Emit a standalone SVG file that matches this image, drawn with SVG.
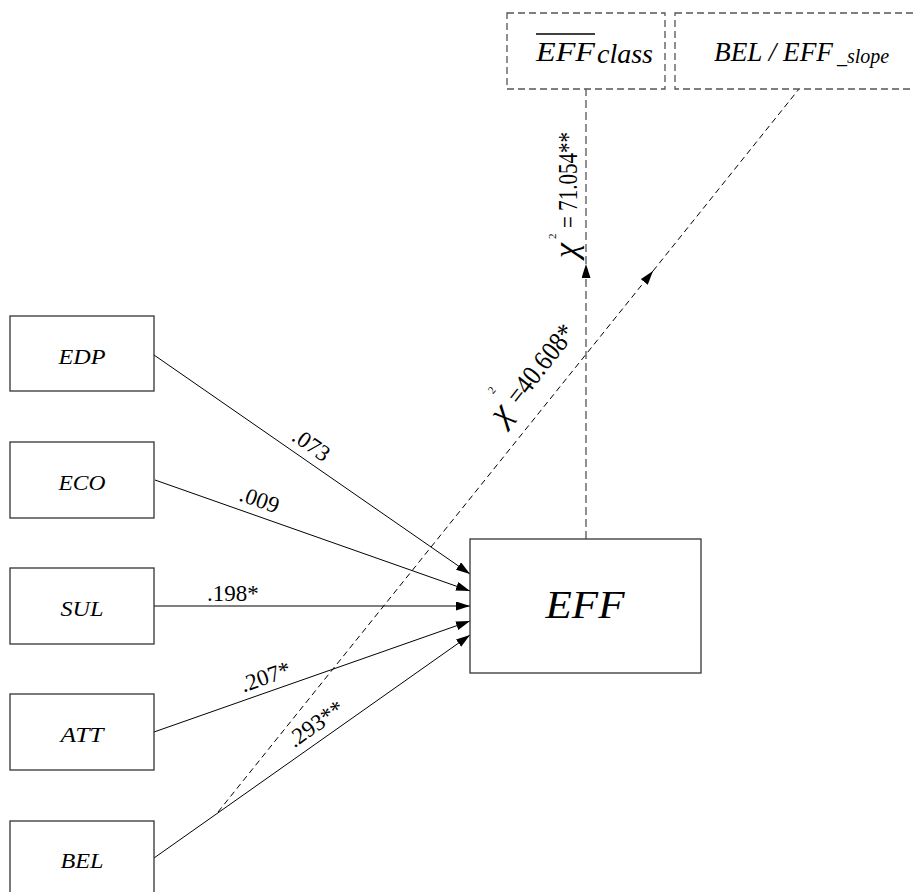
<svg xmlns="http://www.w3.org/2000/svg" width="914" height="892" viewBox="0 0 914 892">
<defs>
<style>
.box{fill:#fff;stroke:#333;stroke-width:1.3}
.dbox{fill:#fff;stroke:#555;stroke-width:1.3;stroke-dasharray:7 4}
.sol{stroke:#000;stroke-width:1;fill:none}
.dgray{stroke:#555;stroke-width:1.3;stroke-dasharray:8 4;fill:none}
.dblk{stroke:#000;stroke-width:1;stroke-dasharray:6 4;fill:none}
</style>
<marker id="ah" markerUnits="userSpaceOnUse" markerWidth="15" markerHeight="10" refX="14" refY="4.5" orient="auto"><path d="M0,0 L14,4.5 L0,9 z" fill="#000"/></marker>
</defs>
<rect width="914" height="892" fill="#fff"/>
<g font-family="Liberation Serif, Times New Roman, serif" fill="#000">
<g id="connectors">
<line class="sol" x1="154" y1="355" x2="470" y2="574" marker-end="url(#ah)"/>
<line class="sol" x1="155" y1="480" x2="470" y2="591" marker-end="url(#ah)"/>
<line class="sol" x1="154" y1="606" x2="470" y2="606" marker-end="url(#ah)"/>
<line class="sol" x1="154" y1="732" x2="470" y2="621" marker-end="url(#ah)"/>
<line class="sol" x1="154" y1="858" x2="470" y2="635" marker-end="url(#ah)"/>
<line class="dgray" x1="586" y1="539" x2="586" y2="264" marker-end="url(#ah)"/>
<line class="dgray" x1="586" y1="264" x2="586" y2="89"/>
<line class="dblk" x1="218" y1="812" x2="653" y2="271" marker-end="url(#ah)"/>
<line class="dblk" x1="653" y1="271" x2="799" y2="89"/>
<text font-size="23" text-anchor="middle" transform="translate(307,451) rotate(34.7)">.073</text>
<text font-size="23" text-anchor="middle" transform="translate(257,507) rotate(19.4)">.009</text>
<text font-size="23" x="207" y="601">.198*</text>
<text font-size="23" text-anchor="middle" transform="translate(268,684) rotate(-19.4)">.207*</text>
<text font-size="23" text-anchor="middle" transform="translate(320,730) rotate(-35.2)">.293**</text>
<g transform="translate(577,258) rotate(-90)">
<text font-style="italic" font-size="34" x="0" y="0">χ</text>
<text font-size="11" x="19" y="-21">2</text>
<text font-size="28" x="30" y="0" textLength="96" lengthAdjust="spacingAndGlyphs">= 71.054**</text>
</g>
<g transform="translate(504,426) rotate(-52)">
<text font-style="italic" font-size="34" x="0" y="0">χ</text>
<text font-size="11" x="18" y="-28">2</text>
<text font-size="28" x="25" y="0" textLength="93" lengthAdjust="spacingAndGlyphs">=40.608*</text>
</g>
</g>
<g font-style="italic">
<g id="EDP"><rect class="box" x="10" y="316" width="144" height="75"/><text font-size="21" x="82" y="364" text-anchor="middle" textLength="47" lengthAdjust="spacingAndGlyphs">EDP</text></g>
<g id="ECO"><rect class="box" x="10" y="442" width="144" height="76"/><text font-size="21" x="82" y="490" text-anchor="middle" textLength="47" lengthAdjust="spacingAndGlyphs">ECO</text></g>
<g id="SUL"><rect class="box" x="10" y="568" width="144" height="76"/><text font-size="21" x="82" y="616" text-anchor="middle" textLength="43" lengthAdjust="spacingAndGlyphs">SUL</text></g>
<g id="ATT"><rect class="box" x="10" y="694" width="144" height="76"/><text font-size="21" x="82" y="742" text-anchor="middle" textLength="43" lengthAdjust="spacingAndGlyphs">ATT</text></g>
<g id="BEL"><rect class="box" x="10" y="821" width="144" height="76"/><text font-size="21" x="82" y="868" text-anchor="middle" textLength="43" lengthAdjust="spacingAndGlyphs">BEL</text></g>
<g id="EFF"><rect class="box" x="470" y="539" width="231" height="134"/><text font-size="40" x="585" y="618" text-anchor="middle" textLength="79" lengthAdjust="spacingAndGlyphs">EFF</text></g>
<g id="EFF_class"><rect class="dbox" x="507" y="13" width="158" height="76"/>
<line x1="536" y1="34" x2="595" y2="34" stroke="#000" stroke-width="1.3"/>
<text font-size="28" x="536" y="61" textLength="59" lengthAdjust="spacingAndGlyphs">EFF</text>
<text font-size="28" x="597" y="63">class</text></g>
<g id="BEL_EFF_slope"><rect class="dbox" x="675" y="13" width="250" height="76"/>
<text font-size="28" x="714" y="61" textLength="119" lengthAdjust="spacingAndGlyphs">BEL / EFF</text>
<text font-size="20" x="837" y="63">_slope</text></g>
</g>
</g>
</svg>
